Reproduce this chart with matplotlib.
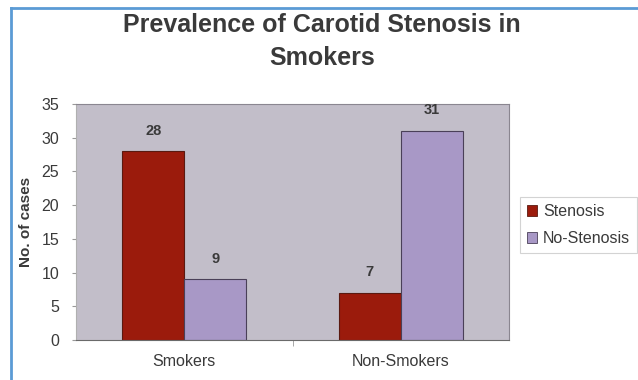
import numpy as np
import matplotlib
matplotlib.use("Agg")
import matplotlib.pyplot as plt
import matplotlib.patches as mpatches
from matplotlib.lines import Line2D

categories = ["Smokers", "Non-Smokers"]
stenosis = [28, 7]
no_stenosis = [9, 31]
series_names = ["Stenosis", "No-Stenosis"]
yticks = [0, 5, 10, 15, 20, 25, 30, 35]

plt.rcParams['font.family'] = ['Liberation Sans', 'DejaVu Sans']

fig = plt.figure(figsize=(6.38, 3.80), dpi=100)
ax = fig.add_axes([76 / 638, 40 / 380, 433 / 638, 236 / 380])

red = "#9b1b0c"
purple = "#a898c6"
bg = "#c2bec9"
text_col = "#3a3a3a"

x = np.arange(len(categories))
w = 0.286
b1 = ax.bar(x - w / 2, stenosis, w, color=red, edgecolor="#5a1a10", linewidth=0.8)
b2 = ax.bar(x + w / 2, no_stenosis, w, color=purple, edgecolor="#4a4058", linewidth=0.8)

for bars in (b1, b2):
    for r in bars:
        ax.text(r.get_x() + r.get_width() / 2, r.get_height() + 2.0, str(int(r.get_height())),
                ha="center", va="bottom", fontsize=10.5, fontweight="bold", color=text_col)

ax.set_facecolor(bg)
ax.set_xlim(-0.5, 1.5)
ax.set_ylim(0, 35)
ax.set_yticks(yticks)
ax.set_xticks(x)
ax.set_xticklabels(categories, fontsize=11.5, color=text_col)
ax.set_xticks([0.5], minor=True)
ax.tick_params(axis="x", which="major", length=0, pad=10)
ax.tick_params(axis="x", which="minor", length=4, color="#999999")
ax.tick_params(axis="y", length=3, color="#999999", labelsize=11.5, labelcolor=text_col, pad=9)
for s in ["top", "right"]:
    ax.spines[s].set_color("#8a8690")
    ax.spines[s].set_linewidth(0.8)
ax.spines["left"].set_color("#b0b0b0")
ax.spines["bottom"].set_color("#6a6a6a")
ax.set_ylabel("No. of cases", fontsize=11, fontweight="bold", color=text_col, labelpad=6)

fig.text(322 / 638, 1 - 25 / 380, "Prevalence of Carotid Stenosis in", ha="center", va="center",
         fontsize=18, fontweight="bold", color=text_col)
fig.text(322 / 638, 1 - 58 / 380, "Smokers", ha="center", va="center",
         fontsize=18, fontweight="bold", color=text_col)

handles = [mpatches.Patch(facecolor=red, edgecolor="#5a1a10", linewidth=0.6),
           mpatches.Patch(facecolor=purple, edgecolor="#4a4058", linewidth=0.6)]
leg = fig.legend(handles, series_names, loc="upper left", bbox_to_anchor=(520 / 638, 1 - 197 / 380),
                 fontsize=11.5, frameon=True, fancybox=False, handlelength=0.6, handleheight=0.6,
                 handletextpad=0.4, labelspacing=0.75, borderpad=0.45, borderaxespad=0)
leg.get_frame().set_edgecolor("#c8c8c8")
leg.get_frame().set_linewidth(0.8)
for t in leg.get_texts():
    t.set_color(text_col)

# blue border of the chart
fig.add_artist(Line2D([11 / 638, 11 / 638], [0, 1 - 8 / 380], transform=fig.transFigure,
                      color="#5b9bd5", linewidth=2))
fig.add_artist(Line2D([11 / 638, 1], [1 - 8 / 380, 1 - 8 / 380], transform=fig.transFigure,
                      color="#5b9bd5", linewidth=2))

fig.savefig("out.png", dpi=100)
